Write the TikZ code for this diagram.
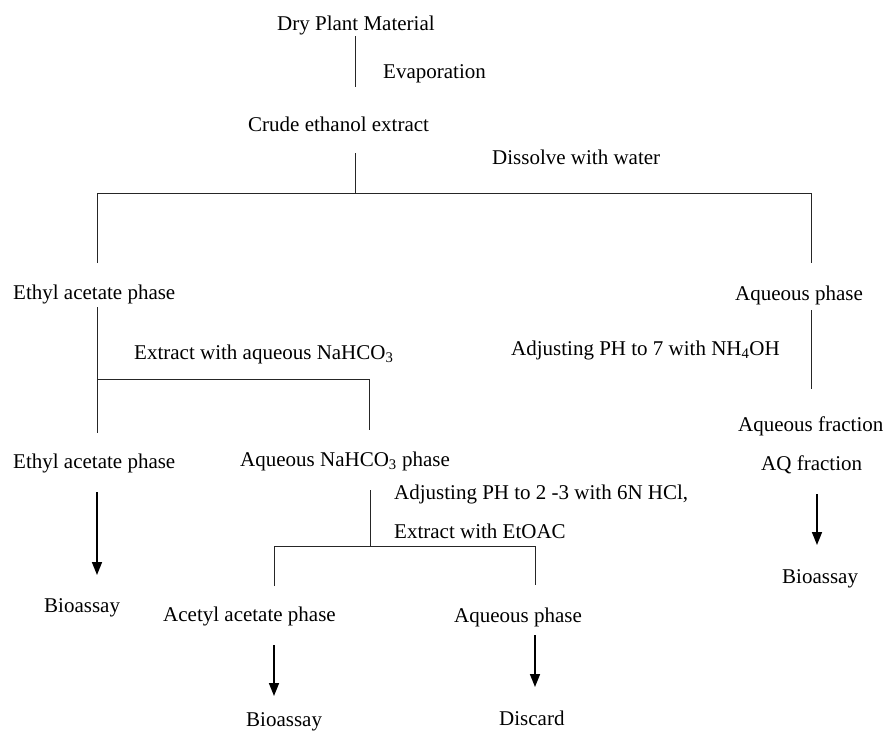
\documentclass[tikz,border=0pt]{standalone}
\usepackage{fontspec}
\setmainfont{Liberation Serif}
\usetikzlibrary{arrows.meta}
\begin{document}
\begin{tikzpicture}[x=1pt,y=-1pt,
  lbl/.style={anchor=base west,inner sep=0pt,font=\fontsize{21}{25}\selectfont},
  conn/.style={line width=1pt,black!85},
  arr/.style={line width=1.6pt,-{Triangle[width=10pt,length=13pt]}}]
\useasboundingbox (0,0) rectangle (883,732);
% texts
\node[lbl] (dpm) at (277,30) {Dry Plant Material};
\node[lbl] (evap) at (383,78) {Evaporation};
\node[lbl] (crude) at (248,131) {Crude ethanol extract};
\node[lbl] (diss) at (492,164) {Dissolve with water};
\node[lbl] (eap1) at (13,299) {Ethyl acetate phase};
\node[lbl] (aqp1) at (735,300) {Aqueous phase};
\node[lbl] (extna) at (134,359) {Extract with aqueous NaHCO\textsubscript{3}};
\node[lbl] (adj7) at (511,355) {Adjusting PH to 7 with NH\textsubscript{4}OH};
\node[lbl] (aqfr) at (738,431) {Aqueous fraction};
\node[lbl] (eap2) at (13,468) {Ethyl acetate phase};
\node[lbl] (naph) at (240,466) {Aqueous NaHCO\textsubscript{3} phase};
\node[lbl] (aqf) at (761,470) {AQ fraction};
\node[lbl] (adj23) at (394,499) {Adjusting PH to 2 -3 with 6N HCl,};
\node[lbl] (extet) at (394,538) {Extract with EtOAC};
\node[lbl] (bio1) at (44,612) {Bioassay};
\node[lbl] (acet) at (163,621) {Acetyl acetate phase};
\node[lbl] (aqp2) at (454,622) {Aqueous phase};
\node[lbl] (bio3) at (782,583) {Bioassay};
\node[lbl] (bio2) at (246,726) {Bioassay};
\node[lbl] (disc) at (499,725) {Discard};
% junction coordinates
\coordinate (a1) at (355,36);  \coordinate (a2) at (355,87);
\coordinate (b1) at (355,153); \coordinate (b2) at (355,193);
\coordinate (bl) at (97,193);  \coordinate (br) at (811,193);
\coordinate (bl2) at (97,263); \coordinate (br2) at (811,263);
\coordinate (c1) at (97,307);  \coordinate (c2) at (97,433);
\coordinate (cj) at (97,379);  \coordinate (cr) at (369,379); \coordinate (cr2) at (369,430);
\coordinate (d1) at (811,310); \coordinate (d2) at (811,389);
\coordinate (e1) at (370,490); \coordinate (e2) at (370,546);
\coordinate (el) at (274,546); \coordinate (er) at (535,546);
\coordinate (el2) at (274,586); \coordinate (er2) at (535,585);
\coordinate (f1) at (97,492);  \coordinate (f2) at (97,575);
\coordinate (g1) at (274,645); \coordinate (g2) at (274,696);
\coordinate (h1) at (535,635); \coordinate (h2) at (535,687);
\coordinate (k1) at (817,494); \coordinate (k2) at (817,545);
% connectors
\draw[conn] (a1) -- (a2);
\draw[conn] (b1) -- (b2);
\draw[conn] (bl2) -- (bl) -- (br) -- (br2);
\draw[conn] (c1) -- (c2);
\draw[conn] (cj) -- (cr) -- (cr2);
\draw[conn] (d1) -- (d2);
\draw[conn] (e1) -- (e2);
\draw[conn] (el2) -- (el) -- (er) -- (er2);
\draw[arr] (f1) -- (f2);
\draw[arr] (g1) -- (g2);
\draw[arr] (h1) -- (h2);
\draw[arr] (k1) -- (k2);
\end{tikzpicture}
\end{document}
